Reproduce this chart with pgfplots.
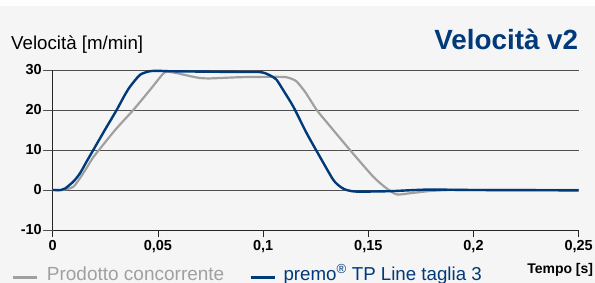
\documentclass[border=0pt]{standalone}
\usepackage{pgfplots}
\pgfplotsset{compat=1.18}
\usepackage{fontspec}
\setmainfont{Liberation Sans}
\definecolor{bgc}{HTML}{F5F5F5}
\definecolor{premo}{HTML}{003A7A}
\definecolor{conc}{HTML}{A0A0A0}
\definecolor{gridc}{HTML}{505050}
\begin{document}
\begin{tikzpicture}
\fill[white] (0,0) rectangle (595bp,283bp);
\fill[bgc] (0,0) rectangle (595bp,277bp);
\begin{axis}[
  at={(52.7bp,53bp)}, anchor=south west,
  scale only axis, width=526bp, height=160bp,
  xmin=0, xmax=0.25, ymin=-10, ymax=30,
  axis x line*=bottom, axis y line*=left,
  axis line style={black!85, line width=0.8bp, -},
  xtick={0,0.05,0.1,0.15,0.2,0.25},
  xticklabels={0,{0,05},{0,1},{0,15},{0,2},{0,25}},
  ytick={-10,0,10,20,30},
  yticklabels={-10,0,10,20,30},
  scaled x ticks=false,
  tick align=outside,
  xtick style={black!85, line width=0.8bp, /pgfplots/major tick length=7bp},
  ytick style={gridc, line width=0.8bp, /pgfplots/major tick length=10bp},
  ymajorgrids, grid style={gridc, line width=0.8bp},
  tick label style={font=\fontsize{14.5bp}{14.5bp}\selectfont\bfseries},
  /pgf/number format/assume math mode=true,
  xticklabel style={anchor=north, inner sep=0pt, yshift=-6bp},
  yticklabel style={anchor=east, inner sep=0pt, xshift=-6.5bp},
  clip=false,
]
\addplot[conc, line width=2.2bp, smooth, tension=0.4] coordinates {
(0,0) (0.004,0) (0.0098,0.8) (0.015,4.6) (0.019,8.0) (0.0209,9.3) (0.030,15.2) (0.0383,20) (0.0462,25) (0.0525,29.1) (0.0545,29.6) (0.057,29.4) (0.060,29.1) (0.065,28.5) (0.070,28.0) (0.075,27.9) (0.089,28.2) (0.105,28.3) (0.111,28.2) (0.114,27.7) (0.116,27.1) (0.120,24.5) (0.1255,20) (0.130,17.1) (0.1413,10) (0.1524,3.3) (0.1587,0.4) (0.1635,-1.1) (0.170,-0.8) (0.1793,-0.25) (0.19,0) (0.21,0) (0.25,0)
};
\addplot[premo, line width=2.4bp, smooth, tension=0.4] coordinates {
(0,0) (0.004,0) (0.006,0.4) (0.010,2.2) (0.013,4.2) (0.016,7.0) (0.0193,10) (0.025,15.2) (0.0304,20) (0.034,23.5) (0.0367,25.8) (0.0415,28.8) (0.0462,29.7) (0.050,29.8) (0.055,29.7) (0.07,29.6) (0.09,29.5) (0.098,29.5) (0.101,29.2) (0.1045,28.3) (0.1065,27.5) (0.110,24.6) (0.1144,20.8) (0.1207,14.2) (0.127,8.3) (0.1334,2.5) (0.137,0.7) (0.1397,0) (0.1445,-0.4) (0.160,-0.3) (0.178,0.1) (0.20,0) (0.23,-0.05) (0.25,-0.1)
};
\end{axis}
\node[anchor=base west, inner sep=0pt, font=\fontsize{18.7bp}{18.7bp}\selectfont] at (11bp,233.7bp) {Velocità [m/min]};
\node[anchor=base east, inner sep=0pt, text=premo, font=\fontsize{27.8bp}{27.8bp}\selectfont\bfseries] at (578.3bp,233.7bp) {Velocità v2};
\draw[conc, line width=3bp] (12.7bp,5.7bp) -- (36.7bp,5.7bp);
\node[anchor=base west, inner sep=0pt, text=conc, font=\fontsize{19bp}{19bp}\selectfont] at (46.7bp,3bp) {Prodotto concorrente};
\draw[premo, line width=3bp] (250.7bp,5.7bp) -- (275bp,5.7bp);
\node[anchor=base west, inner sep=0pt, text=premo, font=\fontsize{18.7bp}{18.7bp}\selectfont] at (283.3bp,3bp) {premo\textsuperscript{®} TP Line taglia 3};
\node[anchor=base east, inner sep=0pt, font=\fontsize{14bp}{14bp}\selectfont\bfseries] at (593.3bp,9.7bp) {Tempo [s]};
\pgfresetboundingbox
\useasboundingbox (0,0) rectangle (595bp,283bp);
\end{tikzpicture}
\end{document}
